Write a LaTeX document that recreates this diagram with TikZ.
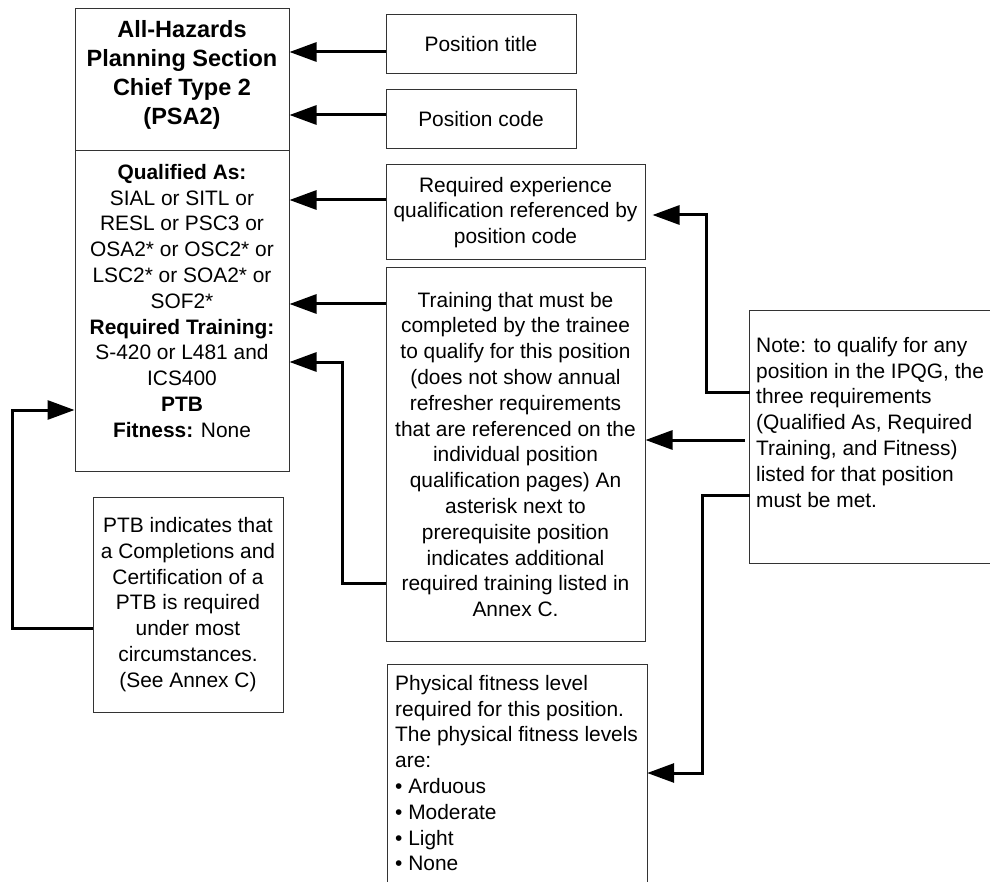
\documentclass[tikz,border=0pt]{standalone}
\usepackage{fontspec}
\setmainfont{Liberation Sans}
\usetikzlibrary{arrows.meta}
\begin{document}
\begin{tikzpicture}[x=1pt,y=-1pt,
  box/.style={draw=black!80,line width=1pt,inner sep=0pt,rectangle},
  open/.style={draw=none,inner sep=0pt,rectangle},
  edge/.style={draw=black!80,line width=1pt},
  txt/.style={font=\fontsize{20.9}{25.8}\selectfont,align=center,inner sep=0pt},
  ttl/.style={font=\bfseries\fontsize{23.5}{29}\selectfont,align=center,inner sep=0pt},
  arr/.style={line width=3pt,-{Triangle[length=27pt,width=19pt]}}]
\useasboundingbox (0,0) rectangle (990,882);

% main position box
\node[box,minimum width=214pt,minimum height=142pt] (mtitle) at (182,80) {};
\node[box,minimum width=214pt,minimum height=320pt] (mbody) at (182,311) {};
\node[ttl,anchor=north] (ttltext) at (182,20) {All-Hazards\\Planning Section\\Chief Type 2\\(PSA2)};
\node[txt,anchor=north] (bodytext) at (182,164) {\textbf{Qualified As:}\\SIAL or SITL or\\RESL or PSC3 or\\OSA2* or OSC2* or\\LSC2* or SOA2* or\\SOF2*\\\textbf{Required Training:}\\S-420 or L481 and\\ICS400\\\textbf{PTB}\\\textbf{Fitness:} None};

% explanation boxes
\node[box,txt,minimum width=190pt,minimum height=59pt] (ptitle) at (481,44.5) {Position title};
\node[box,txt,minimum width=190pt,minimum height=59pt] (pcode) at (481,119.5) {Position code};
\node[box,txt,minimum width=259pt,minimum height=95pt] (reqexp) at (515.5,212.5) {Required experience\\qualification referenced by\\position code};
\node[box,txt,minimum width=259pt,minimum height=373pt] (train) at (515.5,454.5) {Training that must be\\completed by the trainee\\to qualify for this position\\(does not show annual\\refresher requirements\\that are referenced on the\\individual position\\qualification pages) An\\asterisk next to\\prerequisite position\\indicates additional\\required training listed in\\Annex C.};
\node[box,txt,minimum width=190pt,minimum height=215pt] (ptb) at (188,604.5) {PTB indicates that\\a Completions and\\Certification of a\\PTB is required\\under most\\circumstances.\\(See Annex C)};

% note box (right side cut off)
\node[open,minimum width=240pt,minimum height=252pt] (note) at (870,437) {};
\draw[edge] (note.north east) -- (note.north west) -- (note.south west) -- (note.south east);
\node[txt,align=left,anchor=north west] (notetext) at (756,337) {Note: to qualify for any\\position in the IPQG, the\\three requirements\\(Qualified As, Required\\Training, and Fitness)\\listed for that position\\must be met.};

% fitness box (bottom cut off)
\node[open,minimum width=259pt,minimum height=217pt] (fit) at (517.5,773.5) {};
\draw[edge] (fit.south west) -- (fit.north west) -- (fit.north east) -- (fit.south east);
\node[txt,align=left,anchor=north west] (fittext) at (395,675) {Physical fitness level\\required for this position.\\The physical fitness levels\\are:\\• Arduous\\• Moderate\\• Light\\• None};

% connectors
\draw[arr] (ptitle.west |- 0,52) -- (mtitle.east |- 0,52);
\draw[arr] (pcode.west |- 0,115) -- (mtitle.east |- 0,115);
\draw[arr] (reqexp.west |- 0,200) -- (mbody.east |- 0,200);
\draw[arr] (train.west |- 0,304) -- (mbody.east |- 0,304);
\draw[arr] (train.west |- 0,583) -- (342,583) |- (mbody.east |- 0,362);
\draw[arr] (ptb.west |- 0,628) -- (12,628) |- (mbody.west |- 0,410);
\draw[arr,shorten >=7pt] (note.west |- 0,392) -- (706,392) |- (reqexp.east |- 0,215);
\draw[arr,shorten <=5pt] (note.west |- 0,440) -- (train.east |- 0,440);
\draw[arr] (note.west |- 0,495) -- (702,495) |- (fit.east |- 0,773);
\end{tikzpicture}
\end{document}
